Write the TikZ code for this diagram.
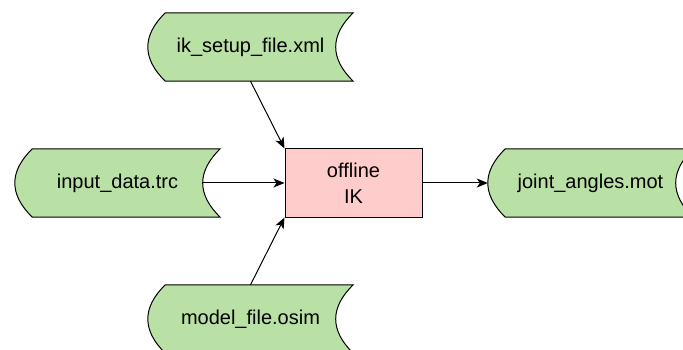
\documentclass[tikz,border=0pt]{standalone}
\usepackage{fontspec}
\setmainfont{Liberation Sans}
\usetikzlibrary{arrows.meta}
\definecolor{storefill}{HTML}{B9E0A5}
\definecolor{procfill}{HTML}{FFCCCC}
% outline of a "stored data" shape around a node: bulging left side,
% concave right side
\newcommand{\storedata}[2][17.5]{%
  \draw[storeline]
    ([xshift=#1pt]#2.north west) -- (#2.north east)
    .. controls ([xshift=-4*#1/3 pt]$(#2.north east)!0.333!(#2.south east)$)
       and ([xshift=-4*#1/3 pt]$(#2.north east)!0.667!(#2.south east)$) ..
    (#2.south east) -- ([xshift=#1pt]#2.south west)
    .. controls ([xshift=-#1/3 pt]$(#2.south west)!0.333!(#2.north west)$)
       and ([xshift=-#1/3 pt]$(#2.south west)!0.667!(#2.north west)$) ..
    ([xshift=#1pt]#2.north west) -- cycle;
  \coordinate (#2-in) at ([xshift=-#1pt]#2.east);
}
\usetikzlibrary{calc}
\begin{document}
\begin{tikzpicture}[x=1pt,y=-1pt,
  storeline/.style={draw=black,line width=1pt,fill=storefill},
  storenode/.style={minimum width=205pt,minimum height=68pt,inner sep=0pt,
    font=\fontsize{20}{26}\selectfont},
  procbox/.style={draw=black,line width=1pt,fill=procfill,minimum width=137pt,
    minimum height=68pt,inner sep=0pt,align=center,
    font=\fontsize{20}{26}\selectfont},
  link/.style={line width=1pt,-{Stealth[length=11pt,width=9pt,inset=3pt]}}]
\useasboundingbox (0,0) rectangle (683,350);
\clip (0,0) rectangle (683,350);
% node frames (outlines drawn below, text put on top)
\path (250.5,47) node[storenode] (setup) {};
\path (117.5,183) node[storenode] (input) {};
\path (590.5,183) node[storenode] (angles) {};
\path (250.5,319) node[storenode] (model) {};
\storedata{setup}
\storedata{input}
\storedata{angles}
\storedata{model}
\node[storenode] at (setup) {ik\_setup\_file.xml};
\node[storenode] at (input) {input\_data.trc};
\node[storenode] at (angles) {joint\_angles.mot};
\node[storenode] at (model) {model\_file.osim};
\node[procbox] (ik) at (353.5,183) {offline\\IK};
% connectors
\draw[link] (setup.south) -- (ik.north west);
\draw[link] (model.north) -- (ik.south west);
\draw[link] (input-in) -- (ik.west);
\draw[link] (ik.east) -- (angles.west);
\end{tikzpicture}
\end{document}
